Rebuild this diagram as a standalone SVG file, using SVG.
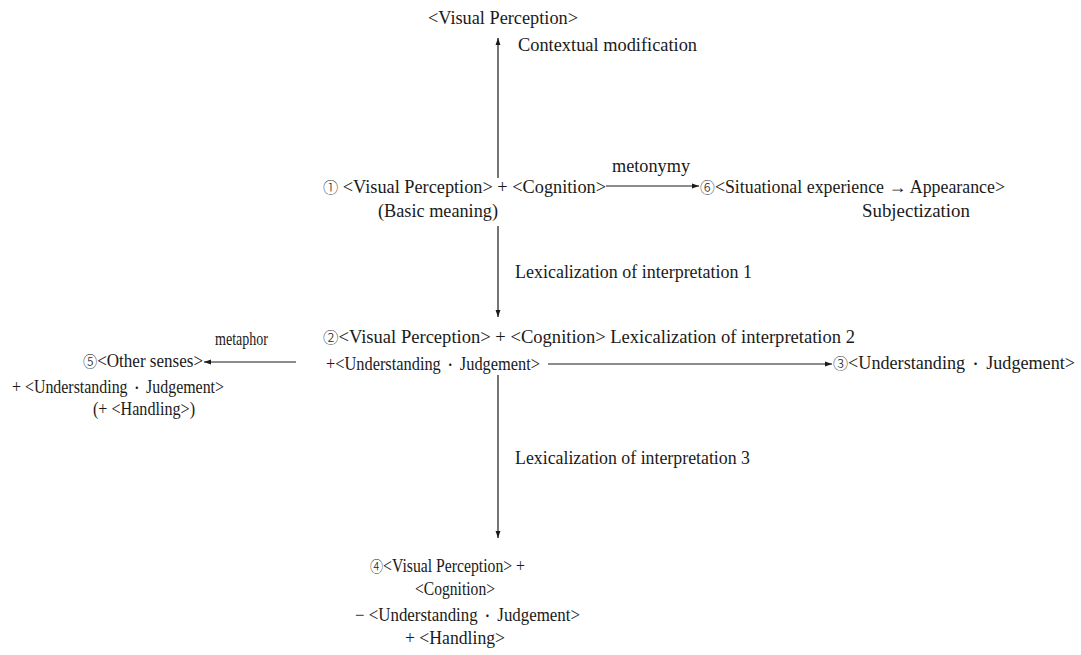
<svg xmlns="http://www.w3.org/2000/svg" width="1081" height="655" viewBox="0 0 1081 655">
  <style>
    text { font-family: "Liberation Serif", "Times New Roman", "DejaVu Serif", serif; font-size: 18px; fill: #1a1a1a; }
    .sym { font-family: "Noto Sans CJK JP", "DejaVu Sans", sans-serif; font-weight: 300; font-size: 15px; }
    .dot { font-family: "Noto Sans CJK JP", sans-serif; font-size: 12px; }
    .conn line { stroke: #1a1a1a; stroke-width: 1.2; fill: none; marker-end: url(#ah); }
  </style>
  <defs>
    <marker id="ah" viewBox="0 0 10 10" refX="10" refY="5" markerWidth="7" markerHeight="7" markerUnits="userSpaceOnUse" orient="auto">
      <path d="M0,1.5 L10,5 L0,8.5 z" fill="#1a1a1a"/>
    </marker>
  </defs>
  <rect width="1081" height="655" fill="#ffffff"/>

  <!-- arrows between the meanings -->
  <g id="connectors" class="conn">
    <line x1="498" y1="178" x2="498" y2="38"/>
    <line x1="606" y1="186" x2="699" y2="186"/>
    <line x1="498" y1="226" x2="498" y2="317"/>
    <line x1="296" y1="362" x2="204" y2="362"/>
    <line x1="548" y1="364" x2="832" y2="364"/>
    <line x1="498" y1="375" x2="498" y2="538"/>
  </g>

  <g id="node-top">
    <text x="428" y="24" textLength="150" lengthAdjust="spacingAndGlyphs">&lt;Visual Perception&gt;</text>
    <text x="518" y="51" textLength="179" lengthAdjust="spacingAndGlyphs">Contextual modification</text>
  </g>

  <g id="node-1">
    <text x="323" y="193" textLength="283" lengthAdjust="spacingAndGlyphs"><tspan class="sym">①</tspan> &lt;Visual Perception&gt; + &lt;Cognition&gt;</text>
    <text x="378" y="217" textLength="120" lengthAdjust="spacingAndGlyphs">(Basic meaning)</text>
  </g>

  <g id="label-metonymy">
    <text x="612" y="172" textLength="78" lengthAdjust="spacingAndGlyphs">metonymy</text>
  </g>

  <g id="node-6">
    <text x="700" y="193" textLength="305" lengthAdjust="spacingAndGlyphs"><tspan class="sym">⑥</tspan>&lt;Situational experience → Appearance&gt;</text>
    <text x="862" y="217" textLength="108" lengthAdjust="spacingAndGlyphs">Subjectization</text>
  </g>

  <g id="label-lex1">
    <text x="515" y="278" textLength="237" lengthAdjust="spacingAndGlyphs">Lexicalization of interpretation 1</text>
  </g>

  <g id="node-2">
    <text x="323" y="343" textLength="532" lengthAdjust="spacingAndGlyphs"><tspan class="sym">②</tspan>&lt;Visual Perception&gt; + &lt;Cognition&gt; Lexicalization of interpretation 2</text>
    <text x="326" y="370" textLength="214" lengthAdjust="spacingAndGlyphs">+&lt;Understanding <tspan class="dot">・</tspan> Judgement&gt;</text>
  </g>

  <g id="label-metaphor">
    <text x="215" y="345" textLength="53" lengthAdjust="spacingAndGlyphs">metaphor</text>
  </g>

  <g id="node-5">
    <text x="83" y="367" textLength="120" lengthAdjust="spacingAndGlyphs"><tspan class="sym">⑤</tspan>&lt;Other senses&gt;</text>
    <text x="12" y="393" textLength="212" lengthAdjust="spacingAndGlyphs">+ &lt;Understanding <tspan class="dot">・</tspan> Judgement&gt;</text>
    <text x="93" y="415" textLength="102" lengthAdjust="spacingAndGlyphs">(+ &lt;Handling&gt;)</text>
  </g>

  <g id="node-3">
    <text x="833" y="369" textLength="242" lengthAdjust="spacingAndGlyphs"><tspan class="sym">③</tspan>&lt;Understanding <tspan class="dot">・</tspan> Judgement&gt;</text>
  </g>

  <g id="label-lex3">
    <text x="515" y="464" textLength="235" lengthAdjust="spacingAndGlyphs">Lexicalization of interpretation 3</text>
  </g>

  <g id="node-4">
    <text x="370" y="572" textLength="155" lengthAdjust="spacingAndGlyphs"><tspan class="sym">④</tspan>&lt;Visual Perception&gt; +</text>
    <text x="415" y="595" textLength="80" lengthAdjust="spacingAndGlyphs">&lt;Cognition&gt;</text>
    <text x="355" y="621" textLength="225" lengthAdjust="spacingAndGlyphs">− &lt;Understanding <tspan class="dot">・</tspan> Judgement&gt;</text>
    <text x="405" y="644" textLength="100" lengthAdjust="spacingAndGlyphs">+ &lt;Handling&gt;</text>
  </g>
</svg>
